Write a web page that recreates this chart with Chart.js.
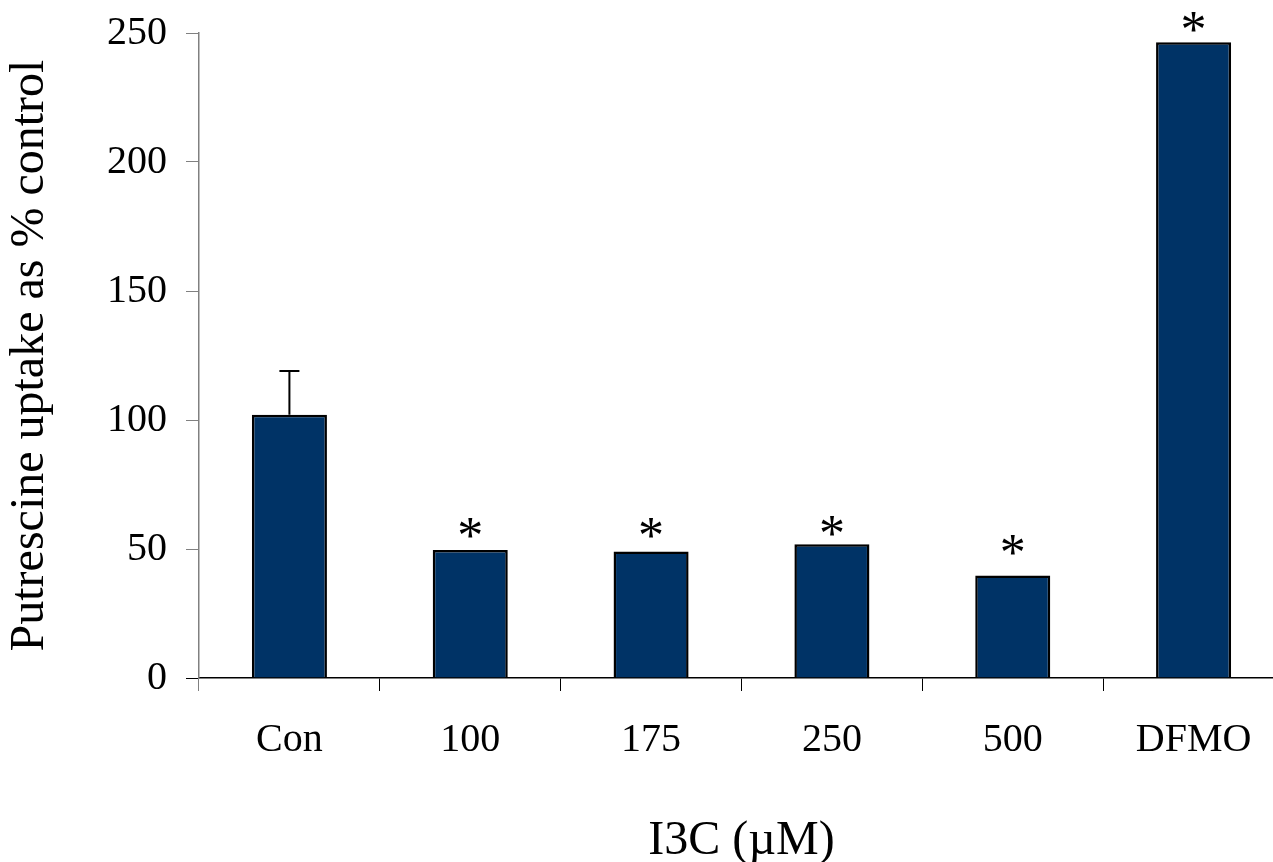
<!DOCTYPE html>
<html>
<head>
<meta charset="utf-8">
<script src="https://cdn.jsdelivr.net/npm/chart.js@4.4.1/dist/chart.umd.min.js"></script>
<style>
  html, body { margin: 0; padding: 0; background: #fff; overflow: hidden; }
  canvas { display: block; }
</style>
</head>
<body>
<canvas id="myChart" width="1290" height="880"></canvas>
<script>
const groups = ["Con", "100", "175", "250", "500", "DFMO"];
const uptake = [102, 49.6, 49, 51.8, 39.7, 246.4];
// upper end of the error bar (only the control has one)
const errorTop = [119, null, null, null, null, null];
// asterisk marks and the level they sit at
const marks = ["", "*", "*", "*", "*", "*"];
const markAt = [null, 50.4, 50.3, 51.3, 43.9, 246.4];
const yTicks = [0, 50, 100, 150, 200, 250];

const serif = "'Liberation Serif', 'Times New Roman', serif";

// white background, error bar and asterisks
const extras = {
  id: "extras",
  beforeDraw: (chart) => {
    const { ctx, width, height } = chart;
    ctx.save();
    ctx.fillStyle = "#fff";
    ctx.fillRect(0, 0, width, height);
    ctx.restore();
  },
  afterDatasetsDraw: (chart) => {
    const { ctx } = chart;
    const yScale = chart.scales.y;
    const bars = chart.getDatasetMeta(0).data;
    ctx.save();
    ctx.strokeStyle = "#000";
    ctx.lineWidth = 2;
    bars.forEach((bar, i) => {
      if (errorTop[i] == null) return;
      const top = yScale.getPixelForValue(errorTop[i]);
      ctx.beginPath();
      ctx.moveTo(bar.x, bar.y);
      ctx.lineTo(bar.x, top);
      ctx.moveTo(bar.x - 10, top);
      ctx.lineTo(bar.x + 10, top);
      ctx.stroke();
    });
    ctx.fillStyle = "#000";
    ctx.font = "52px " + serif;
    ctx.textAlign = "center";
    ctx.textBaseline = "alphabetic";
    bars.forEach((bar, i) => {
      if (!marks[i]) return;
      ctx.fillText(marks[i], bar.x, yScale.getPixelForValue(markAt[i]) + 5);
    });
    ctx.restore();
  },
};

new Chart(document.getElementById("myChart"), {
  type: "bar",
  data: {
    labels: groups,
    datasets: [
      {
        data: uptake,
        backgroundColor: "#003366",
        borderColor: "#000",
        borderWidth: 2.5,
        barPercentage: 0.415,
        categoryPercentage: 1,
      },
    ],
  },
  options: {
    responsive: false,
    animation: false,
    layout: { padding: { top: 33, right: 6, left: 0, bottom: 0 } },
    plugins: {
      legend: { display: false },
      tooltip: { enabled: false },
    },
    scales: {
      x: {
        afterFit: (scale) => {
          scale.height = 202;
          scale.paddingLeft = 0;
          scale.paddingRight = 0;
        },
        ticks: {
          color: "#000",
          font: { family: serif, size: 40 },
          padding: 25,
          maxRotation: 0,
        },
        grid: {
          drawOnChartArea: false,
          tickLength: 13,
          color: (c) => (c.index === 0 ? "#808080" : "#000"),
        },
        border: { color: "#000", width: 1.5 },
        title: {
          display: true,
          text: "I3C (\u00b5M)",
          color: "#000",
          font: { family: serif, size: 48 },
          padding: { top: 0, bottom: 10 },
        },
      },
      y: {
        min: 0,
        max: 250,
        afterFit: (scale) => {
          scale.width = 199;
          scale.paddingTop = 0;
          scale.paddingBottom = 0;
        },
        afterBuildTicks: (scale) => {
          scale.ticks = yTicks.map((v) => ({ value: v }));
        },
        ticks: {
          color: "#000",
          font: { family: serif, size: 40 },
          padding: 19,
        },
        grid: {
          drawOnChartArea: false,
          tickLength: 13,
          color: (c) => (c.tick && c.tick.value === 0 ? "#000" : "#808080"),
        },
        border: { color: "#808080", width: 1.5 },
        title: {
          display: true,
          text: "Putrescine uptake as % control",
          color: "#000",
          font: { family: serif, size: 48 },
          padding: { top: 2, bottom: 0 },
        },
      },
    },
  },
  plugins: [extras],
});
</script>
</body>
</html>
